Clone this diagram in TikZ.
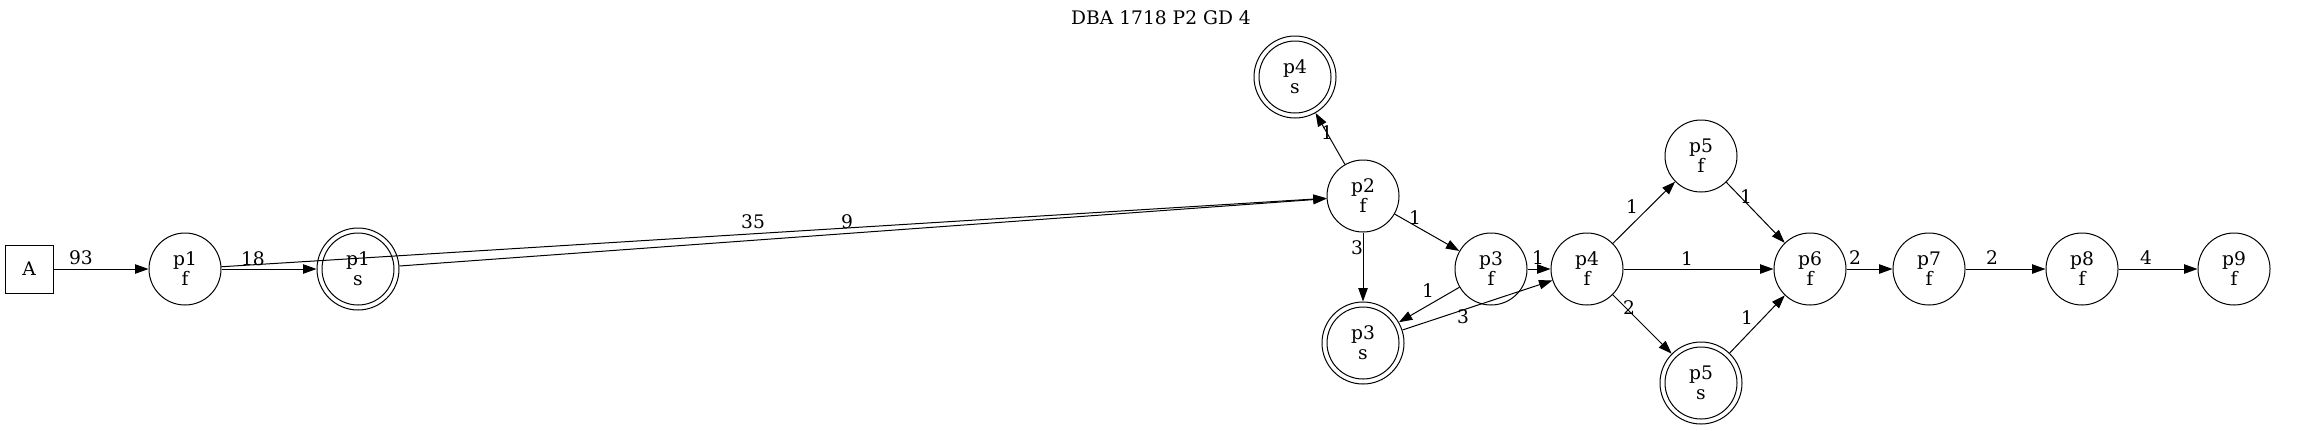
\documentclass[tikz,border=0pt]{standalone}
\usepackage{fontspec}
\setmainfont{DejaVu Serif}
\usetikzlibrary{arrows.meta}
\begin{document}
\begin{tikzpicture}[x=0.75pt,y=-0.75pt,
  every node/.style={font=\fontsize{14}{15}\selectfont},
  st/.style={circle,draw,line width=0.75pt,minimum size=54pt,inner sep=0pt,align=center},
  dbl/.style={circle,draw,line width=0.75pt,minimum size=61.5pt,inner sep=0pt,align=center,
    path picture={\draw[line width=0.75pt] (path picture bounding box.center) circle[radius=27pt];}},
  box/.style={rectangle,draw,line width=0.75pt,minimum size=36pt,inner sep=0pt},
  edge/.style={line width=0.75pt,-{Triangle[length=10pt,width=7pt]}},
  lbl/.style={inner sep=0pt}]
\useasboundingbox[fill=white] (0,0) rectangle (2323,430);
\node[inner sep=0pt] (title) at (1161,18) {DBA 1718 P2 GD 4};
\node[box] (A) at (29,269) {A};
\node[st] (p1f) at (185,269) {p1\\f};
\node[dbl] (p1s) at (358,269) {p1\\s};
\node[st] (p2f) at (1363,196) {p2\\f};
\node[dbl] (p4s) at (1295,77) {p4\\s};
\node[st] (p3f) at (1491,269) {p3\\f};
\node[dbl] (p3s) at (1363,343) {p3\\s};
\node[st] (p4f) at (1587,269) {p4\\f};
\node[st] (p5f) at (1701,156) {p5\\f};
\node[dbl] (p5s) at (1701,383) {p5\\s};
\node[st] (p6f) at (1810,269) {p6\\f};
\node[st] (p7f) at (1929,269) {p7\\f};
\node[st] (p8f) at (2082,269) {p8\\f};
\node[st] (p9f) at (2234,269) {p9\\f};

\draw[edge] (A) -- (p1f);
\draw[edge] (p1f) -- (p1s);
\draw[edge] (p1f) -- (p2f);
\draw[edge] (p1s) -- (p2f);
\draw[edge] (p2f) -- (p4s);
\draw[edge] (p2f) -- (p3f);
\draw[edge] (p2f) -- (p3s);
\draw[edge] (p3f) -- (p3s);
\draw[edge] (p3s) -- (p4f);
\draw[edge] (p3f) -- (p4f);
\draw[edge] (p4f) -- (p5f);
\draw[edge] (p4f) -- (p6f);
\draw[edge] (p4f) -- (p5s);
\draw[edge] (p5f) -- (p6f);
\draw[edge] (p5s) -- (p6f);
\draw[edge] (p6f) -- (p7f);
\draw[edge] (p7f) -- (p8f);
\draw[edge] (p8f) -- (p9f);

\node[lbl] (l1) at (81,258) {93};
\node[lbl] (l2) at (253,259) {18};
\node[lbl] (l3) at (753,222) {35};
\node[lbl] (l4) at (847,222) {9};
\node[lbl] (l5) at (1327,133) {1};
\node[lbl] (l6) at (1415,218) {1};
\node[lbl] (l7) at (1357,248) {3};
\node[lbl] (l8) at (1428,291) {1};
\node[lbl] (l9) at (1463,317) {3};
\node[lbl] (l10) at (1538,258) {1};
\node[lbl] (l11) at (1632,207) {1};
\node[lbl] (l12) at (1687,259) {1};
\node[lbl] (l13) at (1629,308) {2};
\node[lbl] (l14) at (1746,197) {1};
\node[lbl] (l15) at (1747,318) {1};
\node[lbl] (l16) at (1855,258) {2};
\node[lbl] (l17) at (1992,258) {2};
\node[lbl] (l18) at (2146,258) {4};
\end{tikzpicture}
\end{document}
